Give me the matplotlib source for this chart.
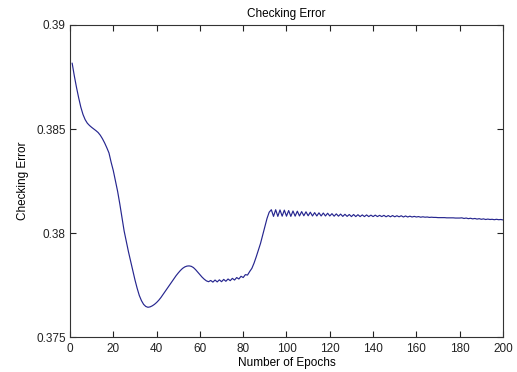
import numpy as np
import matplotlib
matplotlib.use("Agg")
import matplotlib.pyplot as plt
from matplotlib.ticker import FixedLocator

# -------------------------------
# Data
# -------------------------------
checking_error = [
    0.38816, 0.38755, 0.38700, 0.38650, 0.38605, 0.38570, 0.38545, 0.38528, 0.38517, 0.38508,
    0.38500, 0.38492, 0.38483, 0.38470, 0.38453, 0.38433, 0.38410, 0.38385, 0.38340, 0.38300,
    0.38250, 0.38200, 0.38140, 0.38075, 0.38010, 0.37960, 0.37910, 0.37865, 0.37820, 0.37775,
    0.37735, 0.37700, 0.37675, 0.37657, 0.37647, 0.37643, 0.37645, 0.37650, 0.37657, 0.37666,
    0.37677, 0.37690, 0.37705, 0.37720, 0.37735, 0.37750, 0.37765, 0.37780, 0.37795, 0.37808,
    0.37820, 0.37830, 0.37837, 0.37841, 0.37842, 0.37840, 0.37834, 0.37824, 0.37812, 0.37800,
    0.37788, 0.37778, 0.37770, 0.37766, 0.37772, 0.37764, 0.37774, 0.37765, 0.37775, 0.37766,
    0.37777, 0.37768, 0.37779, 0.37771, 0.37782, 0.37774, 0.37786, 0.37779, 0.37792, 0.37786,
    0.37800, 0.37798, 0.37815, 0.37830, 0.37855, 0.37885, 0.37918, 0.37950, 0.37990, 0.38030,
    0.38070, 0.38100, 0.38112, 0.38080, 0.38112, 0.38080, 0.38111, 0.38081, 0.38110, 0.38081,
    0.38108, 0.38080, 0.38106, 0.38081, 0.38105, 0.38082, 0.38103, 0.38083, 0.38102, 0.38083,
    0.38100, 0.38082, 0.38098, 0.38082, 0.38097, 0.38082, 0.38096, 0.38082, 0.38095, 0.38082,
    0.38093, 0.38081, 0.38092, 0.38081, 0.38091, 0.38080, 0.38090, 0.38080, 0.38089, 0.38079,
    0.38089, 0.38079, 0.38088, 0.38079, 0.38087, 0.38079, 0.38087, 0.38079, 0.38086, 0.38079,
    0.38086, 0.38079, 0.38085, 0.38079, 0.38085, 0.38078, 0.38084, 0.38078, 0.38084, 0.38078,
    0.38083, 0.38078, 0.38083, 0.38077, 0.38082, 0.38077, 0.38081, 0.38077, 0.38080, 0.38077,
    0.38079, 0.38076, 0.38078, 0.38076, 0.38077, 0.38075, 0.38076, 0.38075, 0.38075, 0.38074,
    0.38074, 0.38074, 0.38074, 0.38073, 0.38073, 0.38073, 0.38073, 0.38072, 0.38072, 0.38072,
    0.38073, 0.38070, 0.38072, 0.38069, 0.38071, 0.38068, 0.38070, 0.38067, 0.38069, 0.38066,
    0.38068, 0.38065, 0.38067, 0.38065, 0.38066, 0.38064, 0.38066, 0.38064, 0.38065, 0.38063,
]
epochs = np.arange(1, len(checking_error) + 1)

x_ticks = [0, 20, 40, 60, 80, 100, 120, 140, 160, 180, 200]
y_ticks = [0.375, 0.38, 0.385, 0.39]
y_tick_labels = ["0.375", "0.38", "0.385", "0.39"]

# -------------------------------
# Plot
# -------------------------------
plt.rcParams["font.family"] = ["Liberation Sans", "DejaVu Sans"]

fig = plt.figure(figsize=(5.17, 3.72), dpi=100)
ax = fig.add_axes([0.1354, 0.094, 0.8375, 0.8388])

ax.plot(epochs, checking_error, color="#26268f", linewidth=0.85)

ax.set_xlim(0, 200)
ax.set_ylim(0.375, 0.39)
ax.xaxis.set_major_locator(FixedLocator(x_ticks))
ax.set_yticks(y_ticks)
ax.set_yticklabels(y_tick_labels)

ax.tick_params(direction="in", length=4, width=0.8, labelsize=8.5,
               top=True, right=True, colors="#222222")
ax.tick_params(axis="x", pad=4)
ax.tick_params(axis="y", pad=3)
for s in ax.spines.values():
    s.set_linewidth(0.8)
    s.set_color("#333333")

ax.set_title("Checking Error", fontsize=8.5, pad=6)
ax.set_xlabel("Number of Epochs", fontsize=8.5, labelpad=2)
ax.set_ylabel("Checking Error", fontsize=8.5, labelpad=5)

fig.savefig("out.png", dpi=100)
